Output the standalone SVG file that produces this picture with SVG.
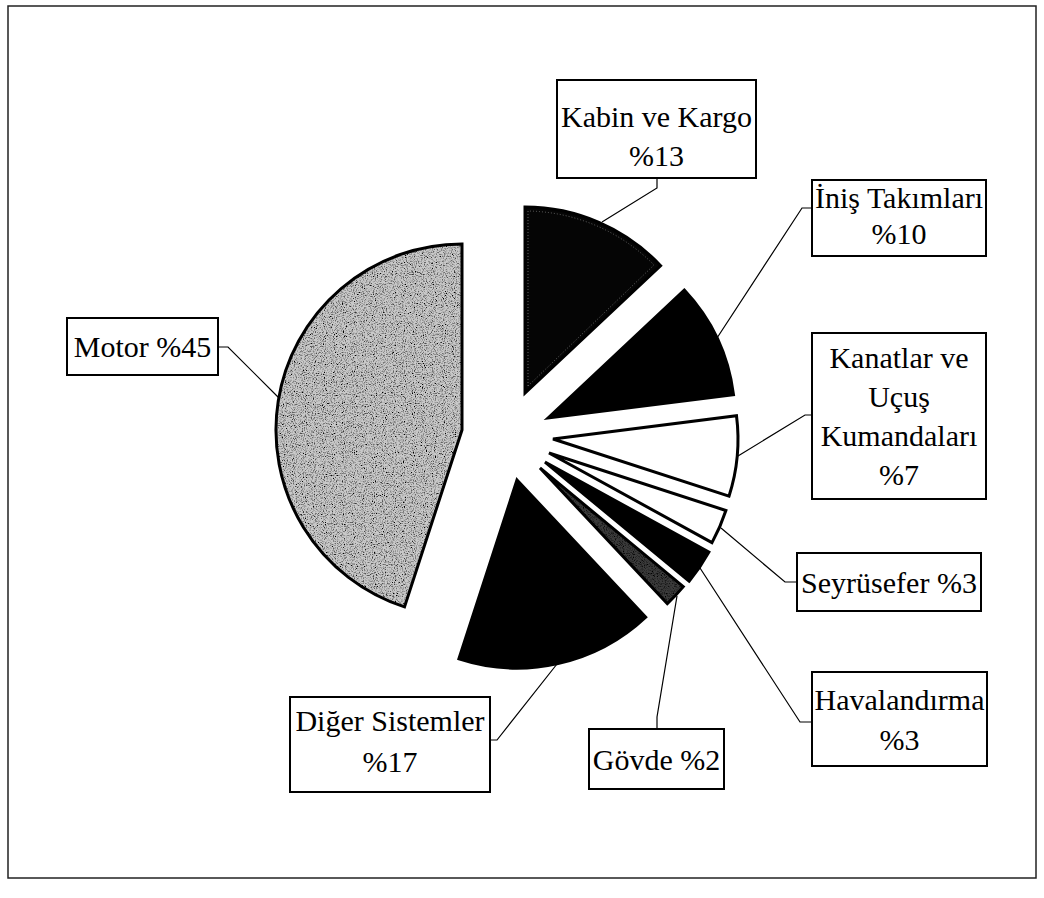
<svg xmlns="http://www.w3.org/2000/svg" width="1044" height="898" viewBox="0 0 1044 898">
  <style>
    .slice { stroke: #000; stroke-width: 3; stroke-linejoin: miter; }
    .dark { fill: #000; }
    .blank { fill: #fff; }
    .box { fill: #fff; stroke: #000; stroke-width: 2; }
    .lbl { font-family: "Liberation Serif", "Times New Roman", serif; font-size: 30px; fill: #000; text-anchor: middle; }
    .lead { fill: none; stroke: #000; stroke-width: 1.2; }
  </style>
  <defs>
    <!-- speckled shading for the grey sectors -->
    <filter id="grain" x="0" y="0" width="100%" height="100%">
      <feTurbulence type="fractalNoise" baseFrequency="0.9" numOctaves="2" seed="7" result="noise"/>
      <feColorMatrix in="noise" type="matrix" values="0 0 0 0 0  0 0 0 0 0  0 0 0 0 0  0 0 0 3 -1.35" result="speck"/>
      <feComposite in="speck" in2="SourceAlpha" operator="in" result="speckIn"/>
      <feMerge>
        <feMergeNode in="SourceGraphic"/>
        <feMergeNode in="speckIn"/>
      </feMerge>
    </filter>
  </defs>

  <rect width="1044" height="898" fill="#fff"/>
  <!-- chart frame -->
  <rect x="8" y="6" width="1028" height="872" fill="none" stroke="#222" stroke-width="1.5"/>

  <!-- leader lines -->
  <g id="connectors">
    <polyline class="lead" points="657,178 657,188 602,222"/>
    <polyline class="lead" points="812,208 802,208 717,338"/>
    <polyline class="lead" points="812,415 805,415 738,456"/>
    <polyline class="lead" points="797,582 785,582 721,528"/>
    <polyline class="lead" points="812,722 800,722 700,568"/>
    <polyline class="lead" points="657,729 657,717 677,596"/>
    <polyline class="lead" points="490,740 497,740 557,664"/>
    <polyline class="lead" points="218,347 228,347 279,398"/>
  </g>

  <g id="motor">
    <path d="M462,430 L404.5,606.9 A186,186 0 0 1 462,244 Z" fill="#c9c9c9" filter="url(#grain)"/>
    <path class="slice" d="M462,430 L404.5,606.9 A186,186 0 0 1 462,244 Z" fill="none"/>
    <rect class="box" x="67" y="318" width="151" height="57"/>
    <text class="lbl" x="142.5" y="357">Motor %45</text>
  </g>

  <g id="kabin">
    <path class="slice" d="M525,393 L525,207 A186,186 0 0 1 660.6,265.7 Z" fill="#050505"/>
    <path d="M528,386 L528,211 A182,182 0 0 1 654,265 Z" fill="none" stroke="#777" stroke-width="0.8" stroke-dasharray="1 2"/>
    <rect class="box" x="557" y="80" width="199" height="98"/>
    <text class="lbl" x="656.5" y="127">Kabin ve Kargo</text>
    <text class="lbl" x="656.5" y="166">%13</text>
  </g>

  <g id="inis">
    <path class="slice dark" d="M548,418 L684.3,290 A187,187 0 0 1 733.5,394.6 Z"/>
    <rect class="box" x="812" y="180" width="174" height="76"/>
    <text class="lbl" x="899" y="208">İniş Takımları</text>
    <text class="lbl" x="899" y="244">%10</text>
  </g>

  <g id="kanatlar">
    <path class="slice blank" d="M553,439 L736.5,415.8 A185,185 0 0 1 729,496.2 Z"/>
    <rect class="box" x="812" y="333" width="174" height="166"/>
    <text class="lbl" x="899" y="368">Kanatlar ve</text>
    <text class="lbl" x="899" y="407">Uçuş</text>
    <text class="lbl" x="899" y="446">Kumandaları</text>
    <text class="lbl" x="899" y="485">%7</text>
  </g>

  <g id="seyrusefer">
    <path class="slice blank" d="M549,453 L725.9,510.5 A186,186 0 0 1 712,542.6 Z"/>
    <rect class="box" x="797" y="553" width="184" height="58"/>
    <text class="lbl" x="889" y="593">Seyrüsefer %3</text>
  </g>

  <g id="havalandirma">
    <path class="slice dark" d="M545,462 L708.9,552.1 A187,187 0 0 1 689.1,581.2 Z"/>
    <rect class="box" x="812" y="672" width="175" height="94"/>
    <text class="lbl" x="899.5" y="710">Havalandırma</text>
    <text class="lbl" x="899.5" y="750">%3</text>
  </g>

  <g id="govde">
    <path d="M540,468 L683.3,586.6 A186,186 0 0 1 667.3,603.6 Z" fill="#3a3a3a" filter="url(#grain)"/>
    <path class="slice" d="M540,468 L683.3,586.6 A186,186 0 0 1 667.3,603.6 Z" fill="none"/>
    <rect class="box" x="589" y="729" width="135" height="60"/>
    <text class="lbl" x="656.5" y="770">Gövde %2</text>
  </g>

  <g id="diger">
    <path class="slice dark" d="M517,480 L645.7,617.1 A188,188 0 0 1 458.9,658.8 Z"/>
    <rect class="box" x="290" y="697" width="200" height="95"/>
    <text class="lbl" x="390" y="731">Diğer Sistemler</text>
    <text class="lbl" x="390" y="772">%17</text>
  </g>
</svg>
